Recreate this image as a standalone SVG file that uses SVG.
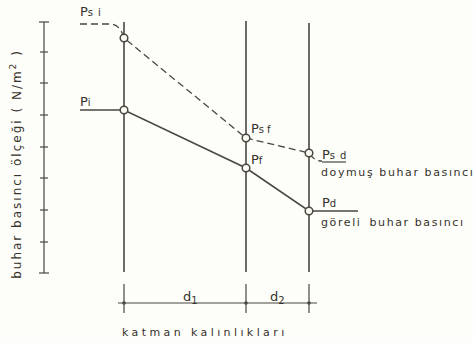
<svg xmlns="http://www.w3.org/2000/svg" width="473" height="343" viewBox="0 0 473 343">
<style>
.ln{stroke:#4a473f;stroke-width:1.6;fill:none}
.th{stroke:#4a473f;stroke-width:1.2;fill:none}
.ds{stroke:#4a473f;stroke-width:1.3;fill:none;stroke-dasharray:7 4}
.pt{fill:#fbfaf4;stroke:#4a473f;stroke-width:1.5}
text{font-family:"DejaVu Sans","Liberation Sans",sans-serif;fill:#35322b}
.lb{font-size:13px}
.sb{font-size:10px}
.sm{font-size:11px;letter-spacing:1.6px}
</style>
<rect width="473" height="343" fill="#fdfdf9"/>
<g id="axis">
<line class="th" x1="44" y1="22" x2="44" y2="273"/>
<g class="th">
<line x1="39" y1="22" x2="49" y2="22"/>
<line x1="40" y1="52" x2="48" y2="52"/>
<line x1="40" y1="83" x2="48" y2="83"/>
<line x1="40" y1="115" x2="48" y2="115"/>
<line x1="40" y1="147" x2="48" y2="147"/>
<line x1="40" y1="178" x2="48" y2="178"/>
<line x1="40" y1="210" x2="48" y2="210"/>
<line x1="40" y1="242" x2="48" y2="242"/>
<line x1="39" y1="273" x2="49" y2="273"/>
</g>
<text class="sm" transform="translate(21,164) rotate(-90)" text-anchor="middle" style="font-size:12px;letter-spacing:2px">buhar basıncı ölçeği ( N/m<tspan font-size="9" dy="-5">2</tspan><tspan dy="5"> )</tspan></text>
</g>
<g id="layers">
<line class="ln" x1="124" y1="22" x2="124" y2="272"/>
<line class="ln" x1="246" y1="21" x2="246" y2="272"/>
<line class="ln" x1="309" y1="23" x2="309" y2="272"/>
</g>
<g id="connectors">
<path class="ds" d="M80 24 H110 Q120 24 124 38 L246 138 L309 153 Q314 161 322 161"/>
<path class="ln" d="M80 110 H124 L246 168 L309 211 H358"/>
<line class="th" x1="322" y1="162" x2="346" y2="162"/>
</g>
<g id="node-psi"><circle class="pt" cx="124" cy="38" r="3.8"/><text class="lb" x="80" y="16">P<tspan class="sb">s</tspan><tspan class="sb" dx="5">i</tspan></text></g>
<g id="node-pi"><circle class="pt" cx="124" cy="110" r="3.8"/><text class="lb" x="80" y="106">P<tspan class="sb">i</tspan></text></g>
<g id="node-psf"><circle class="pt" cx="246" cy="138" r="3.8"/><text class="lb" x="251" y="133">P<tspan class="sb">s</tspan><tspan class="sb" dx="3">f</tspan></text></g>
<g id="node-pf"><circle class="pt" cx="246" cy="168" r="3.8"/><text class="lb" x="251" y="164">P<tspan class="sb">f</tspan></text></g>
<g id="node-psd"><circle class="pt" cx="309" cy="153" r="3.8"/><text class="lb" x="322" y="159">P<tspan class="sb">s</tspan><tspan class="sb" dx="5">d</tspan></text><text class="sm" x="321" y="176">doymuş buhar basıncı</text></g>
<g id="node-pd"><circle class="pt" cx="309" cy="211" r="3.8"/><text class="lb" x="322" y="207">P<tspan class="sb">d</tspan></text><text class="sm" x="321" y="226">göreli<tspan dx="8">buhar basıncı</tspan></text></g>
<g id="dimension">
<line class="th" x1="118" y1="303" x2="317" y2="303"/>
<line class="th" x1="124" y1="284" x2="124" y2="313"/>
<line class="th" x1="246" y1="284" x2="246" y2="313"/>
<line class="th" x1="309" y1="284" x2="309" y2="313"/>
<circle cx="124" cy="303" r="1.8" fill="#4a473f"/>
<circle cx="246" cy="303" r="1.8" fill="#4a473f"/>
<circle cx="309" cy="303" r="1.8" fill="#4a473f"/>
<text class="lb" x="183" y="301">d<tspan class="sb" dy="3">1</tspan></text>
<text class="lb" x="270" y="301">d<tspan class="sb" dy="3">2</tspan></text>
<text class="sm" x="122" y="336" style="letter-spacing:3.4px">katman kalınlıkları</text>
</g>
</svg>
